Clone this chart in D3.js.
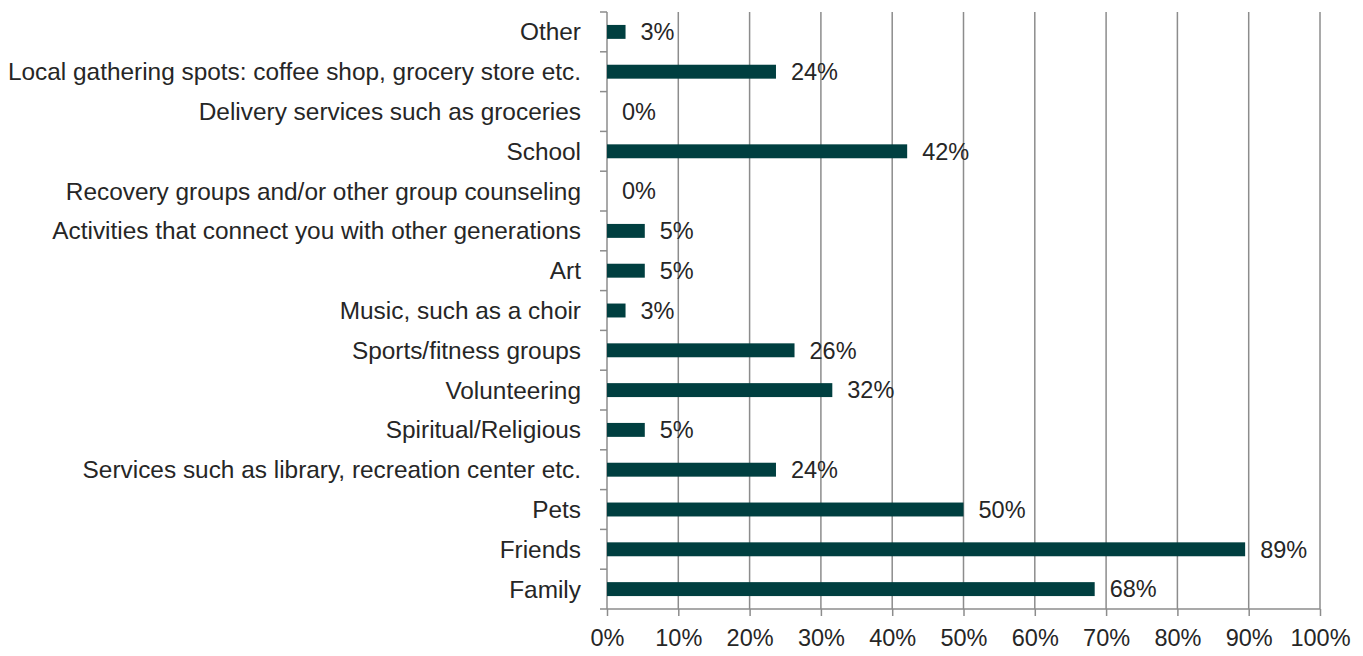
<!DOCTYPE html>
<html>
<head>
<meta charset="utf-8">
<script src="https://cdn.jsdelivr.net/npm/d3@7"></script>
<style>
  body { margin: 0; background: #fff; }
  text { font-family: "Liberation Sans", Arial, sans-serif; fill: #262626; }
</style>
</head>
<body>
<svg></svg>
<script>
var width = 1363;
var height = 656;

// data (top to bottom)
var categories = [
  "Other",
  "Local gathering spots: coffee shop, grocery store etc.",
  "Delivery services such as groceries",
  "School",
  "Recovery groups and/or other group counseling",
  "Activities that connect you with other generations",
  "Art",
  "Music, such as a choir",
  "Sports/fitness groups",
  "Volunteering",
  "Spiritual/Religious",
  "Services such as library, recreation center etc.",
  "Pets",
  "Friends",
  "Family"
];
var values = [2.6, 23.7, 0, 42.1, 0, 5.3, 5.3, 2.6, 26.3, 31.6, 5.3, 23.7, 50.0, 89.5, 68.4];
var labels = ["3%", "24%", "0%", "42%", "0%", "5%", "5%", "3%", "26%", "32%", "5%", "24%", "50%", "89%", "68%"];
var xTicks = [0, 10, 20, 30, 40, 50, 60, 70, 80, 90, 100];

var plotLeft = 607, plotRight = 1320, plotTop = 12, plotBottom = 609;
var gridColor = "#8c8c8c";
var barColor = "#003f40";

var svg = d3.select("svg").attr("width", width).attr("height", height);

var xScale = d3.scaleLinear().domain([0, 100]).range([plotLeft, plotRight]);
var yScale = d3.scaleBand().domain(categories).range([plotTop, plotBottom]).paddingInner(0.65).paddingOuter(0.325);

// グリッド線
svg.append("g")
  .selectAll("line")
  .data(xTicks.slice(1))
  .enter()
  .append("line")
  .attr("x1", function(d) { return xScale(d); })
  .attr("x2", function(d) { return xScale(d); })
  .attr("y1", plotTop)
  .attr("y2", plotBottom)
  .attr("stroke", gridColor)
  .attr("stroke-width", 1.5);

// 横軸
var xAxis = svg.append("g")
  .attr("transform", "translate(0," + plotBottom + ")")
  .call(d3.axisBottom(xScale).tickValues(xTicks).tickSize(7).tickPadding(13)
    .tickFormat(function(d) { return d + "%"; }));
xAxis.selectAll("path, line").attr("stroke", gridColor).attr("stroke-width", 1.5);
xAxis.select(".domain").attr("d", "M" + plotLeft + ",0H" + plotRight);
xAxis.selectAll("text").attr("font-size", 23.5).attr("font-family", "Liberation Sans").attr("fill", "#262626");

// 縦軸 (band boundaries as ticks)
var step = yScale.step();
var bounds = d3.range(categories.length + 1).map(function(i) { return plotTop + i * step; });
var yAxis = svg.append("g");
yAxis.append("line")
  .attr("x1", plotLeft).attr("x2", plotLeft).attr("y1", plotTop).attr("y2", plotBottom)
  .attr("stroke", gridColor).attr("stroke-width", 1.5);
yAxis.selectAll(".tk")
  .data(bounds)
  .enter()
  .append("line")
  .attr("class", "tk")
  .attr("x1", plotLeft - 7).attr("x2", plotLeft)
  .attr("y1", function(d) { return d; })
  .attr("y2", function(d) { return d; })
  .attr("stroke", gridColor).attr("stroke-width", 1.5);

yAxis.selectAll("text")
  .data(categories)
  .enter()
  .append("text")
  .attr("x", plotLeft - 26)
  .attr("y", function(d) { return yScale(d) + yScale.bandwidth() / 2; })
  .attr("dy", "0.35em")
  .attr("text-anchor", "end")
  .attr("font-size", 24.4)
  .text(function(d) { return d; });

// バー
svg.append("g")
  .selectAll("rect")
  .data(values)
  .enter()
  .append("rect")
  .attr("x", xScale(0))
  .attr("y", function(d, i) { return yScale(categories[i]); })
  .attr("width", function(d) { return xScale(d) - xScale(0); })
  .attr("height", yScale.bandwidth())
  .attr("fill", barColor);

// ラベル
svg.append("g")
  .selectAll("text")
  .data(values)
  .enter()
  .append("text")
  .attr("x", function(d) { return xScale(d) + 15; })
  .attr("y", function(d, i) { return yScale(categories[i]) + yScale.bandwidth() / 2; })
  .attr("dy", "0.35em")
  .attr("font-size", 23.5)
  .text(function(d, i) { return labels[i]; });
</script>
</body>
</html>
